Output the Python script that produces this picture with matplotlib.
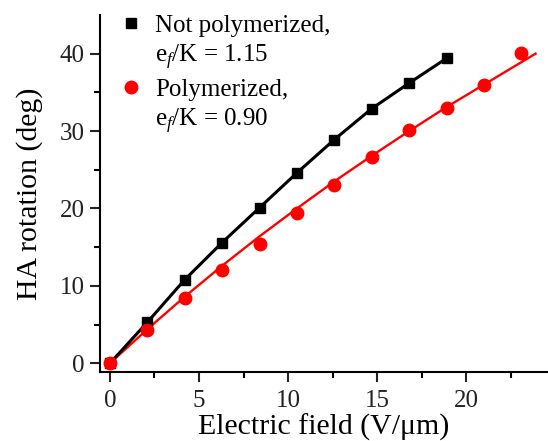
import matplotlib
matplotlib.use("Agg")
import matplotlib.pyplot as plt
from matplotlib.lines import Line2D

plt.rcParams['font.family'] = ['Liberation Serif', 'DejaVu Serif']
plt.rcParams['mathtext.fontset'] = 'custom'
plt.rcParams['mathtext.rm'] = 'Liberation Serif'
plt.rcParams['mathtext.it'] = 'Liberation Serif:italic'

# Data
field_np = [0, 2.1, 4.2, 6.3, 8.4, 10.5, 12.6, 14.7, 16.8, 18.9]
rot_np = [0, 5.3, 10.8, 15.6, 20.1, 24.6, 28.9, 32.9, 36.2, 39.4]

field_p = [0, 2.1, 4.2, 6.3, 8.4, 10.5, 12.6, 14.7, 16.8, 18.9, 21.0, 23.1]
rot_p = [0, 4.3, 8.4, 12.0, 15.4, 19.4, 23.0, 26.6, 30.1, 33.0, 36.0, 40.1]

fit_x = [0, 2.1, 4.2, 6.3, 8.4, 10.5, 12.6, 14.7, 16.8, 18.9, 21.0, 23.9]
fit_y = [0, 4.4, 8.6, 12.6, 16.4, 20.0, 23.5, 26.8, 30.0, 33.1, 36.0, 40.0]

labels = ["Not polymerized,", "e$_{f}$/K = 1.15", "Polymerized,", "e$_{f}$/K = 0.90"]

fig = plt.figure(figsize=(5.48, 4.41), dpi=100)
ax = fig.add_axes([0.1825, 0.156, 0.8175, 0.81])

ax.plot(field_np, rot_np, color='black', lw=2.2, marker='s', ms=7.8, zorder=3)
ax.plot(fit_x, fit_y, color='#ff0000', lw=1.7, zorder=2)
ax.plot(field_p, rot_p, color='#ff0000', ls='none', marker='o', ms=9, zorder=3)

ax.set_xlim(-0.56, 24.6)
ax.set_ylim(-1.16, 45)
ax.set_xticks([0, 5, 10, 15, 20])
ax.set_xticks([2.5, 7.5, 12.5, 17.5, 22.5], minor=True)
ax.set_yticks([0, 10, 20, 30, 40])
ax.set_yticks([5, 15, 25, 35], minor=True)

for s in ['top', 'right']:
    ax.spines[s].set_visible(False)
for s in ['left', 'bottom']:
    ax.spines[s].set_linewidth(1.5)
ax.tick_params(which='major', direction='out', length=7, width=1.5, labelsize=18, colors='#222222')
ax.tick_params(which='minor', direction='out', length=4.5, width=1.5)
ax.tick_params(axis='x', pad=6)
ax.tick_params(axis='y', pad=4)

ax.set_xlabel("Electric field (V/\u03bcm)", fontsize=21.5, labelpad=1)
ax.set_ylabel("HA rotation (deg)", fontsize=21.5, labelpad=12)

h1 = Line2D([], [], color='black', marker='s', ls='none', ms=7)
h2 = Line2D([], [], ls='none', marker=None)
h3 = Line2D([], [], color='#ff0000', marker='o', ls='none', ms=9)
leg = ax.legend([h1, h2, h3, h2], labels, loc='upper left', frameon=False,
                fontsize=18, handlelength=0.8, handletextpad=0.55,
                labelspacing=0.25, borderaxespad=0.0,
                bbox_to_anchor=(0.025, 1.03))

fig.savefig("out.png", dpi=100)
